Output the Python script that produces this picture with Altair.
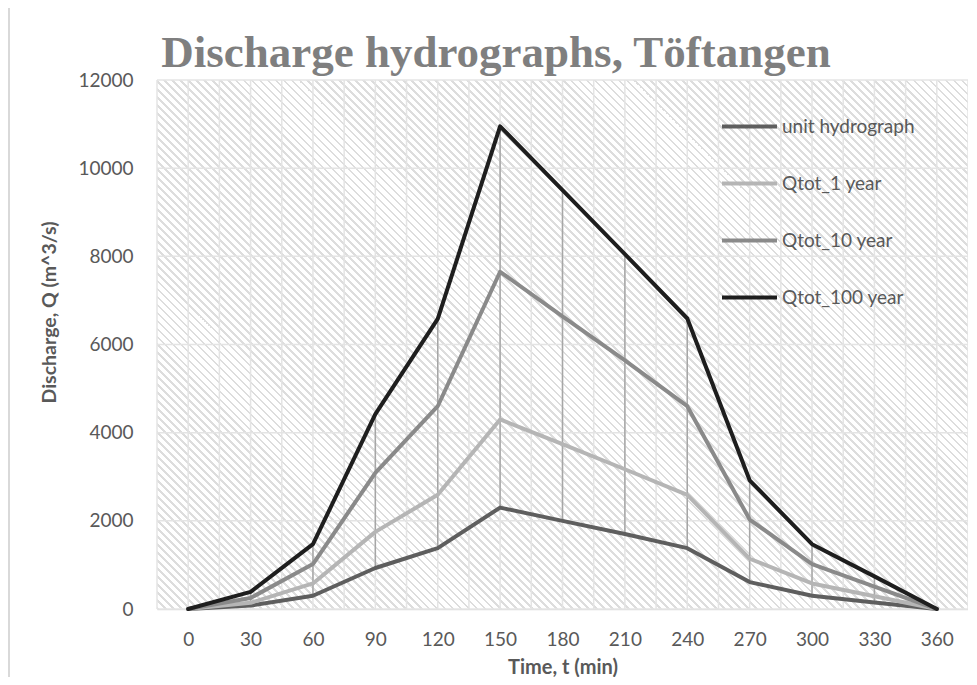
import altair as alt
import pandas as pd

# ---- data ----
times = [0, 30, 60, 90, 120, 150, 180, 210, 240, 270, 300, 330, 360]
unit_hydrograph = [0, 80, 300, 930, 1380, 2300, 2000, 1700, 1380, 610, 300, 150, 0]
qtot_1 = [0, 140, 580, 1750, 2590, 4300, 3740, 3170, 2590, 1140, 580, 290, 0]
qtot_10 = [0, 250, 1020, 3090, 4600, 7650, 6640, 5640, 4600, 2030, 1020, 510, 0]
qtot_100 = [0, 390, 1470, 4420, 6580, 10950, 9500, 8050, 6590, 2920, 1470, 740, 0]

series_names = ["unit hydrograph", "Qtot_1 year", "Qtot_10 year", "Qtot_100 year"]
series_colors = ["#5e5e5e", "#b5b5b5", "#8a8a8a", "#1e1e1e"]
x_labels = [0, 30, 60, 90, 120, 150, 180, 210, 240, 270, 300, 330, 360]
y_ticks = [0, 2000, 4000, 6000, 8000, 10000, 12000]
x_grid = [-15, 0, 15, 30, 45, 60, 75, 90, 105, 120, 135, 150, 165, 180, 195, 210,
          225, 240, 255, 270, 285, 300, 315, 330, 345, 360, 375]
chart_title = "Discharge hydrographs, Töftangen"

W, H = 811, 529
FONT = "Lato"
TXT = "#595959"

values = [unit_hydrograph, qtot_1, qtot_10, qtot_100]
rows = []
for name, vals in zip(series_names, values):
    for t, v in zip(times, vals):
        rows.append({"t": t, "Q": v, "series": name})
df = pd.DataFrame(rows)

hl = pd.DataFrame({
    "t": times,
    "lo": [min(v) for v in zip(*values)],
    "hi": [max(v) for v in zip(*values)],
})

xscale = alt.Scale(domain=[-15, 375], nice=False, zero=False)
yscale = alt.Scale(domain=[0, 12000], nice=False)

# hatched plot-area background (diagonal stripes built as a gradient)
N = 168
dark, light = "#dddddd", "#ffffff"
stops = []
for k in range(N):
    a, b, c = k / N, (k + 0.35) / N, (k + 1) / N
    stops += [
        alt.GradientStop(offset=a, color=dark),
        alt.GradientStop(offset=b, color=dark),
        alt.GradientStop(offset=b, color=light),
        alt.GradientStop(offset=min(c, 1.0), color=light),
    ]
r = H / W
s = (1 + r) / (1 + r * r)
grad = alt.LinearGradient(gradient="linear", stops=stops, x1=0, y1=1, x2=s, y2=1 - s * r)

bg = alt.Chart(pd.DataFrame({"a": [0]})).mark_rect(fill=grad).encode(
    x=alt.datum(-15, scale=xscale), x2=alt.datum(375),
    y=alt.datum(0, scale=yscale), y2=alt.datum(12000),
)

vgrid = alt.Chart(pd.DataFrame({"g": x_grid})).mark_rule(color="#e4e4e4", strokeWidth=1.5).encode(
    x=alt.X("g:Q", scale=xscale,
            axis=alt.Axis(values=x_labels, title="Time, t (min)", grid=False, ticks=False, tickSize=0,
                          domain=True, domainColor="#d9d9d9", domainWidth=1.5, format="d",
                          labelFont=FONT, labelFontSize=19, labelColor=TXT, labelPadding=21,
                          titleFont=FONT, titleFontSize=20, titleFontWeight="bold", titleColor=TXT,
                          titleX=W / 2, titleY=58, titleBaseline="middle")),
)
hgrid = alt.Chart(pd.DataFrame({"g": y_ticks})).mark_rule(color="#e4e4e4", strokeWidth=1.5).encode(
    y=alt.Y("g:Q", scale=yscale,
            axis=alt.Axis(values=y_ticks, title="Discharge, Q (m^3/s)", grid=False, ticks=False, tickSize=0,
                          domain=False, format="d", labelFont=FONT, labelFontSize=19, labelColor=TXT,
                          labelPadding=24,
                          titleFont=FONT, titleFontSize=19.5, titleFontWeight="bold", titleColor=TXT,
                          titleX=-108, titleY=232, titleAngle=-90, titleBaseline="middle")),
)

hilo = alt.Chart(hl).mark_rule(color="#a6a6a6", strokeWidth=1.5).encode(
    x=alt.X("t:Q", scale=xscale), y=alt.Y("lo:Q", scale=yscale), y2="hi:Q"
)

color = alt.Color(
    "series:N",
    scale=alt.Scale(domain=series_names, range=series_colors),
    sort=series_names,
    legend=alt.Legend(
        title=None, orient="none", legendX=563, legendY=17, padding=0,
        symbolType="stroke", symbolSize=3025, symbolStrokeWidth=4,
        labelFont=FONT, labelFontSize=19, labelColor=TXT, labelOffset=3, rowPadding=17,
    ),
)

lines = []
for name in series_names:
    lines.append(
        alt.Chart(df).transform_filter(alt.datum.series == name)
        .mark_line(strokeWidth=4, strokeCap="round", strokeJoin="round")
        .encode(x=alt.X("t:Q", scale=xscale), y=alt.Y("Q:Q", scale=yscale), color=color)
    )

border = alt.Chart(pd.DataFrame({"a": [0]})).mark_rule(color="#d9d9d9", strokeWidth=2).encode(
    x=alt.value(-148), y=alt.value(-72), y2=alt.value(H + 68)
)

title = alt.Chart(pd.DataFrame({"title": [chart_title]})).mark_text(
    font="Liberation Serif", fontSize=45, fontWeight="bold", color="#7f7f7f",
    align="center", baseline="alphabetic",
).encode(x=alt.value(339), y=alt.value(-13), text="title:N")

chart = alt.layer(bg, vgrid, hgrid, hilo, *lines, border, title).properties(
    width=W, height=H,
    padding={"left": 149, "top": 72, "right": 0, "bottom": 68},
    autosize=alt.AutoSizeParams(type="none"),
).configure_view(stroke=None)

chart.save("out.html", embed_options={"renderer": "svg", "actions": False})
